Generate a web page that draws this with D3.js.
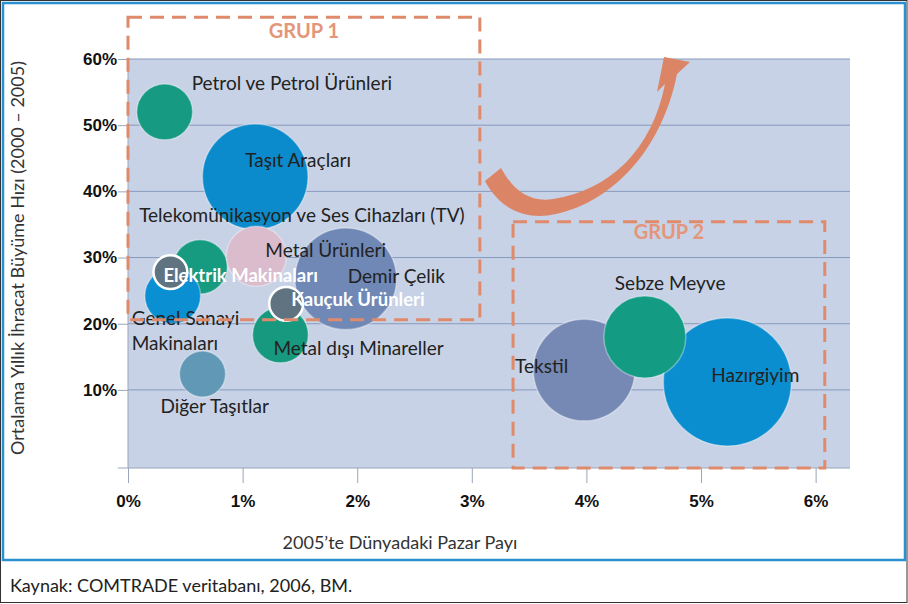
<!DOCTYPE html>
<html lang="tr">
<head>
    <meta charset="UTF-8">
    <script src="https://cdnjs.cloudflare.com/ajax/libs/d3/7.8.5/d3.min.js"></script>
    <title>Pazar Payı ve İhracat Büyüme Hızı</title>
</head>
<style>
html, body {
    margin: 0;
    padding: 0;
    background-color: #ffffff;
}

svg {
    display: block;
    font-family: 'Lato', 'DejaVu Sans', sans-serif;
}

.axis text {
    font-size: 17px;
    font-weight: bold;
    fill: #111;
}

.axis line {
    stroke: #9aa6ba;
}

.axis path {
    display: none;
}

.grid line {
    stroke: #8799bd;
    stroke-width: 1;
}

.label {
    font-size: 19px;
    fill: #222;
}

.label-light {
    font-size: 18.5px;
    font-weight: bold;
    fill: #ffffff;
}

.group-box {
    fill: none;
    stroke: #df8a6b;
    stroke-width: 3;
    stroke-dasharray: 14 8;
}

.group-title {
    font-size: 20px;
    font-weight: bold;
    fill: #e3967a;
    text-anchor: middle;
}

.axis-title {
    font-size: 18px;
    fill: #333;
}
</style>
<body>
    <svg id="canvas"></svg>
<script>
// sektörler (çizim sırası = üst üste binme sırası)
let sectors = ['Demir Çelik', 'Taşıt Araçları', 'Telekomünikasyon ve Ses Cihazları (TV)', 'Metal Ürünleri',
    'Genel Sanayi Makinaları', 'Petrol ve Petrol Ürünleri', 'Metal dışı Minareller', 'Diğer Taşıtlar',
    'Tekstil', 'Hazırgiyim', 'Sebze Meyve', 'Elektrik Makinaları', 'Kauçuk Ürünleri']

// 2005'te dünyadaki pazar payı (%)
let marketShare = [1.90, 1.11, 0.63, 1.12, 0.39, 0.32, 1.33, 0.65, 3.98, 5.23, 4.51, 0.37, 1.38]

// ortalama yıllık ihracat büyüme hızı 2000-2005 (%)
let exportGrowth = [26.8, 42.2, 28.6, 30.2, 24.2, 52.0, 18.3, 12.4, 13.0, 11.2, 18.0, 27.8, 23.0]

// balon büyüklüğü (göreli)
let bubbleSize = [63, 68, 18, 22, 19, 19, 19, 13, 63, 100, 41, 7, 7]

let xTicks = [0, 1, 2, 3, 4, 5, 6]
let yTicks = [10, 20, 30, 40, 50, 60]

let width = 908
let height = 604

let plot = {left: 128, right: 850, top: 59, bottom: 468}

let svg = d3.select('svg')
    .attr('width', width)
    .attr('height', height)

let xScale = d3.scaleLinear().domain([0, 6.3]).range([plot.left, plot.right])
let yScale = d3.scaleLinear().domain([-1.8, 60]).range([plot.bottom, plot.top])
let rScale = d3.scaleSqrt().domain([0, 100]).range([0, 64])

let colorScale = d3.scaleOrdinal()
    .domain(sectors)
    .range(['#7088b5', '#0b8bcb', '#169b80', '#dabccc', '#0a8fd3', '#169a81', '#17997f',
            '#6198b6', '#7589b4', '#0a8ecf', '#139b84', '#5f7480', '#5f7480'])

// etiketlerin balon merkezine göre kayması
let labelLayout = {
    'Demir Çelik': {dx: 2, dy: 4},
    'Taşıt Araçları': {dx: -10, dy: -10},
    'Telekomünikasyon ve Ses Cihazları (TV)': {dx: -61, dy: -45},
    'Metal Ürünleri': {dx: 9, dy: 1},
    'Genel Sanayi Makinaları': {dx: -41, dy: 29, lines: ['Genel Sanayi', 'Makinaları']},
    'Petrol ve Petrol Ürünleri': {dx: 27, dy: -22},
    'Metal dışı Minareller': {dx: -7, dy: 20},
    'Diğer Taşıtlar': {dx: -42, dy: 39},
    'Tekstil': {dx: -69, dy: 3},
    'Hazırgiyim': {dx: -16, dy: 0},
    'Sebze Meyve': {dx: -30, dy: -47},
    'Elektrik Makinaları': {dx: -7, dy: 10, light: true},
    'Kauçuk Ürünleri': {dx: 5, dy: 2, light: true}
}

let values = sectors.map((name, i) => {
    return {name: name, share: marketShare[i], growth: exportGrowth[i], size: bubbleSize[i]}
})

let drawFrame = () => {
    svg.append('rect')
        .attr('x', 0.5).attr('y', 0.5)
        .attr('width', width - 1.5).attr('height', height - 2)
        .attr('fill', 'none')
        .attr('stroke', '#333')
        .attr('stroke-width', 1)

    svg.append('rect')
        .attr('x', 3).attr('y', 3)
        .attr('width', 902).attr('height', 557)
        .attr('fill', 'none')
        .attr('stroke', '#2b90d0')
        .attr('stroke-width', 2.5)
}

let drawPlotArea = () => {
    svg.append('rect')
        .attr('x', plot.left)
        .attr('y', plot.top)
        .attr('width', plot.right - plot.left)
        .attr('height', plot.bottom - plot.top)
        .attr('fill', '#c8d2e6')

    svg.append('g')
        .attr('class', 'grid')
        .selectAll('line')
        .data(yTicks)
        .enter()
        .append('line')
        .attr('x1', plot.left)
        .attr('x2', plot.right)
        .attr('y1', (d) => yScale(d))
        .attr('y2', (d) => yScale(d))
}

let drawAxes = () => {
    let xAxis = d3.axisBottom(xScale)
        .tickValues(xTicks)
        .tickSize(15)
        .tickPadding(12)
        .tickFormat((d) => d + '%')

    let yAxis = d3.axisLeft(yScale)
        .tickValues(yTicks)
        .tickSize(10)
        .tickPadding(1)
        .tickFormat((d) => d + '%')

    svg.append('g')
        .attr('class', 'axis')
        .attr('id', 'x-axis')
        .attr('transform', 'translate(0, ' + plot.bottom + ')')
        .call(xAxis)

    svg.append('g')
        .attr('class', 'axis')
        .attr('id', 'y-axis')
        .attr('transform', 'translate(' + plot.left + ', 0)')
        .call(yAxis)

    // eksen çizgileri
    svg.append('line')
        .attr('x1', plot.left - 10).attr('x2', plot.right)
        .attr('y1', plot.bottom).attr('y2', plot.bottom)
        .attr('stroke', '#9aa6ba')
    svg.append('line')
        .attr('x1', plot.left).attr('x2', plot.left)
        .attr('y1', plot.top).attr('y2', plot.bottom)
        .attr('stroke', '#9aa6ba')

    svg.append('text')
        .attr('class', 'axis-title')
        .attr('transform', 'translate(24, 258) rotate(-90)')
        .attr('text-anchor', 'middle')
        .text('Ortalama Yıllık İhracat Büyüme Hızı (2000 – 2005)')

    svg.append('text')
        .attr('class', 'axis-title')
        .attr('x', 400)
        .attr('y', 549)
        .attr('text-anchor', 'middle')
        .text('2005’te Dünyadaki Pazar Payı')

    svg.append('text')
        .attr('x', 10)
        .attr('y', 592)
        .attr('font-size', '18px')
        .attr('fill', '#222')
        .text('Kaynak: COMTRADE veritabanı, 2006, BM.')
}

let drawGroup = (x0, x1, y0, y1, title, titleY) => {
    let g = svg.append('g')
    g.append('rect')
        .attr('class', 'group-box')
        .attr('x', xScale(x0))
        .attr('y', yScale(y1))
        .attr('width', xScale(x1) - xScale(x0))
        .attr('height', yScale(y0) - yScale(y1))
    g.append('text')
        .attr('class', 'group-title')
        .attr('x', (xScale(x0) + xScale(x1)) / 2)
        .attr('y', yScale(titleY))
        .text(title)
}

let drawBubbles = () => {
    svg.append('g')
        .selectAll('circle')
        .data(values)
        .enter()
        .append('circle')
        .attr('cx', (d) => xScale(d.share))
        .attr('cy', (d) => yScale(d.growth))
        .attr('r', (d) => rScale(d.size))
        .attr('fill', (d) => colorScale(d.name))
        .attr('stroke', (d) => labelLayout[d.name].light ? '#ffffff' : 'rgba(255,255,255,0.35)')
        .attr('stroke-width', (d) => labelLayout[d.name].light ? 2.5 : 1.5)
}

let drawLabels = () => {
    let labels = svg.append('g')
        .selectAll('text')
        .data(values)
        .enter()
        .append('text')
        .attr('class', (d) => labelLayout[d.name].light ? 'label-light' : 'label')
        .attr('x', (d) => xScale(d.share) + labelLayout[d.name].dx)
        .attr('y', (d) => yScale(d.growth) + labelLayout[d.name].dy)

    labels.each(function (d) {
        let lines = labelLayout[d.name].lines || [d.name]
        let x = xScale(d.share) + labelLayout[d.name].dx
        d3.select(this)
            .selectAll('tspan')
            .data(lines)
            .enter()
            .append('tspan')
            .attr('x', x)
            .attr('dy', (l, i) => i === 0 ? 0 : 25)
            .text((l) => l)
    })
}

let drawArrow = () => {
    // kavisli ok: gövde + uç
    svg.append('path')
        .attr('d', 'M485,181 C502,213 530,220 556,214 C612,202 662,150 677,74 L690,62 L664,57 L657,92 L665,84 C652,150 610,190 553,199 C528,203 512,188 501,168 Z')
        .attr('fill', '#dc8466')
}

drawFrame()
drawPlotArea()
drawAxes()
drawGroup(3.36, 6.08, -1.8, 35.4, 'GRUP 2', 32.8)
drawBubbles()
drawLabels()
drawGroup(0, 3.07, 20.6, 66.3, 'GRUP 1', 63.2)
drawArrow()
</script>
</body>
</html>
